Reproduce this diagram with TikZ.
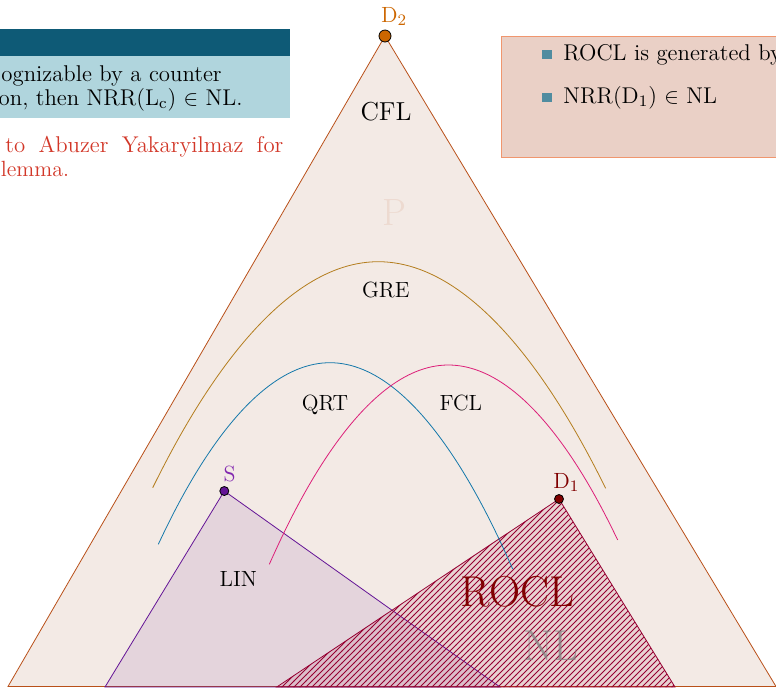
\documentclass[tikz,border=0pt]{standalone}
\usetikzlibrary{patterns}
\definecolor{trifill}{RGB}{243,234,229}
\definecolor{triedge}{RGB}{185,80,25}
\definecolor{dtwo}{RGB}{204,102,0}
\definecolor{gre}{RGB}{180,125,30}
\definecolor{qrt}{RGB}{20,120,170}
\definecolor{fcl}{RGB}{220,30,120}
\definecolor{lin}{RGB}{100,20,150}
\definecolor{slabel}{RGB}{130,40,175}
\definecolor{rocl}{RGB}{150,0,50}
\definecolor{done}{RGB}{128,0,0}
\definecolor{blocktitle}{RGB}{14,90,118}
\definecolor{blockbody}{RGB}{176,213,221}
\definecolor{notefill}{RGB}{234,208,198}
\definecolor{noteedge}{RGB}{240,150,110}
\definecolor{thanks}{RGB}{210,55,40}
\definecolor{bulletc}{RGB}{80,140,160}
\begin{document}
\begin{tikzpicture}
    [x=0.5pt,y=-0.5pt,
     every node/.style={inner sep=0pt,font=\fontsize{11}{13}\selectfont},
     slide/.style={font=\fontsize{11.4}{13.5}\selectfont},
     dot/.style={circle,draw=black,inner sep=0pt,minimum size=4.5pt},
     bulletsq/.style={fill=bulletc,minimum size=4.6pt},
     big/.style={font=\fontsize{21.6}{25}\selectfont}]
    \useasboundingbox (0,0) rectangle (776,687);
    \clip (0,0) rectangle (776,687);
    % the lemma block
    \fill[blocktitle] (0,29) rectangle (290,56);
    \fill[blockbody] (0,56) rectangle (290,118);
    \node[slide,anchor=base east] (lemma1) at (222,81) {ognizable by a counter};
    \node[slide,anchor=base east] (lemma2) at (243,105) {on, then NRR(L$_\mathrm{c}$) $\in$ NL.};
    \node[slide,anchor=base west,text=thanks] (thanks1) at (5,152) {\makebox[139pt][s]{to Abuzer Yakaryilmaz for}};
    \node[anchor=base west,text=thanks] (thanks2) at (0.5,176) {lemma.};
    % the note box
    \draw[noteedge,fill=notefill] (501,36) rectangle (800,157);
    \node[bulletsq] (b1) at (547,54.5) {};
    \node[bulletsq] (b2) at (547,97.5) {};
    \node[slide,anchor=base west] (item1) at (563,60) {ROCL is generated by};
    \node[slide,anchor=base west] (item2) at (563,103) {NRR(D$_1$) $\in$ NL};
    % the big triangle
    \coordinate (top) at (385,36);
    \coordinate (bl) at (8,686.5);
    \coordinate (br) at (776,686.5);
    \filldraw[triedge,fill=trifill] (top) -- (bl) -- (br) -- cycle;
    % S and D1 regions
    \coordinate (s) at (224.3,491);
    \coordinate (sl) at (105,687);
    \coordinate (sr) at (500,687);
    \filldraw[lin,fill=lin,fill opacity=.1] (s) -- (sl) -- (sr) -- cycle;
    \coordinate (d1) at (559,499);
    \coordinate (dl) at (276.7,687);
    \coordinate (dr) at (675,687);
    \fill[rocl,opacity=.1] (d1) -- (dl) -- (dr) -- cycle;
    \fill[pattern=north east lines,pattern color=rocl] (d1) -- (dl) -- (dr) -- cycle;
    \draw[rocl] (d1) -- (dl) -- (dr) -- cycle;
    % classes
    \draw[gre] (152.7,487.7) parabola bend (378.3,261.7) (605.7,488.3);
    \draw[qrt] (158.3,544.3) parabola bend (330,362.7) (512.7,569);
    \draw[fcl] (269.3,564.3) parabola bend (448.3,365) (617.7,540);
    % dots
    \node[dot,minimum size=6pt,fill=dtwo] (D2) at (top) {};
    \node[dot,fill=lin] (S) at (s) {};
    \node[dot,fill=done] (D1) at (d1) {};
    % labels
    \node[anchor=base west,text=dtwo] (D2lbl) at (380.7,22) {D$_2$};
    \node[anchor=base,text=slabel] (Slbl) at (229.5,481) {S};
    \node[anchor=base west,text=done] (D1lbl) at (553,488) {D$_1$};
    \node[anchor=base,font=\fontsize{13}{15}\selectfont] (CFL) at (386,120) {CFL};
    \node[anchor=base,font=\fontsize{19}{22}\selectfont,text=triedge,text opacity=.1] (P) at (394.5,225) {P};
    \node[anchor=base] (GRE) at (385.8,297.5) {GRE};
    \node[anchor=base] (QRT) at (325,410) {QRT};
    \node[anchor=base] (FCL) at (460.8,410) {FCL};
    \node[anchor=base] (LIN) at (238.3,586) {LIN};
    \node[anchor=base,big,text=done] (ROCL) at (517.5,606) {ROCL};
    \node[anchor=base,big,text=gray,text opacity=.75] (NL) at (550.5,660.5) {NL};
\end{tikzpicture}
\end{document}
